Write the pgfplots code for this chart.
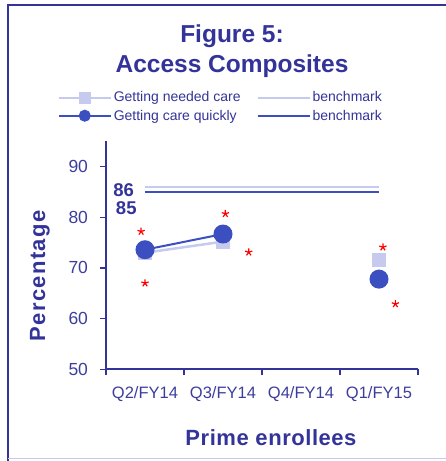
\documentclass[border=0pt]{standalone}
\usepackage{pgfplots}
\pgfplotsset{compat=1.18}
\usepackage{fontspec}
\setmainfont{Liberation Sans}
\newfontfamily\spacedsix[LetterSpace=6]{Liberation Sans}
\newfontfamily\spacedtwo[LetterSpace=2.5]{Liberation Sans}
\definecolor{navy}{HTML}{333399}
\definecolor{ticknavy}{HTML}{3D3D9C}
\definecolor{qblue}{HTML}{3B4FC0}
\definecolor{nlight}{HTML}{C5CAEE}
\begin{document}
\begin{tikzpicture}[x=1pt,y=1pt]
\useasboundingbox (0,0) rectangle (445,461);
% frame (right edge is cut off in the original)
\draw[navy, line width=2pt] (8,0) -- (8,456) -- (446,456);
\draw[nlight, line width=1.5pt] (8,2.5) -- (446,2.5);
% title
\node[navy, font=\bfseries\fontsize{24.5}{29}\selectfont, anchor=base] at (232,418.7) {Figure 5:};
\node[navy, font=\bfseries\fontsize{24.5}{29}\selectfont, anchor=base] at (232,388.7) {Access Composites};
% axis titles
\node[navy, font=\spacedsix\bfseries\fontsize{22}{26}\selectfont, rotate=90, anchor=base] at (45,185.2) {Percentage};
\node[navy, font=\spacedtwo\bfseries\fontsize{22}{26}\selectfont, anchor=base] at (271,16) {Prime enrollees};

\begin{axis}[
    at={(106pt,91.7pt)}, anchor=south west,
    scale only axis, width=312pt, height=228pt,
    xmin=0.5, xmax=4.5, ymin=50, ymax=95,
    axis lines=left,
    axis line style={navy, line width=2pt, -},
    clip=false,
    xtick={1,2,3,4},
    xticklabels={Q2/FY14, Q3/FY14, Q4/FY14, Q1/FY15},
    major x tick style={draw=none},
    minor xtick={0.5,1.5,2.5,3.5,4.5},
    ytick={50,60,70,80,90},
    tick align=outside,
    major tick length=6pt, minor tick length=6pt,
    tick style={navy, line width=1.5pt},
    minor tick style={navy, line width=1.5pt},
    xticklabel style={font=\fontsize{16.5}{18}\selectfont, text=ticknavy, yshift=-7.5pt},
    yticklabel style={font=\fontsize{17.5}{19}\selectfont, text=ticknavy, xshift=-8.5pt},
    /pgf/number format/assume math mode=true,
    unbounded coords=jump,
    legend columns=2,
    legend cell align=left,
    legend style={
        at={(0.368,1.152)}, anchor=center,
        draw=none, fill=none,
        font=\fontsize{14}{16}\selectfont, text=navy,
        row sep=2.5pt,
        /tikz/every even column/.append style={column sep=14pt}
    },
    legend image code/.code={\draw[mark repeat=2,mark phase=2,#1] plot coordinates {(0pt,0pt)(26pt,0pt)(52pt,0pt)};}
]

% legend entries
\addlegendimage{nlight, line width=2pt, mark=square*, mark size=5pt, mark options={solid, fill=nlight}}
\addlegendentry{Getting needed care}
\addlegendimage{nlight, line width=2pt}
\addlegendentry{benchmark}
\addlegendimage{qblue, line width=2pt, mark=*, mark size=5pt, mark options={solid, fill=qblue}}
\addlegendentry{Getting care quickly}
\addlegendimage{qblue, line width=2pt}
\addlegendentry{benchmark}

% benchmarks
\addplot[forget plot, nlight, line width=2pt] coordinates {(1,86) (4,86)};
\addplot[forget plot, qblue, line width=2pt] coordinates {(1,85) (4,85)};

% Getting needed care
\addplot[forget plot, nlight, line width=2.5pt, mark=square*, mark size=6pt,
    mark options={fill=nlight, draw=none}] coordinates {
    (1,73.0) (2,75.2) (3,nan) (4,71.6)
};
% Getting care quickly
\addplot[forget plot, qblue, line width=2pt, mark=*, mark size=8.5pt,
    mark options={fill=qblue, draw=none}] coordinates {
    (1,73.6) (2,76.7) (3,nan) (4,67.8)
};

% significance markers
\addplot[forget plot, only marks, mark=star, red, mark size=3.8pt, line width=1.2pt] coordinates {
    (0.95,77.2) (1.0,67.0) (2.03,80.7) (2.33,73.1) (4.05,74.1) (4.21,62.9)
};

\node[navy, font=\bfseries\fontsize{18.5}{20}\selectfont] at (axis cs:0.727,85.4) {86};
\node[navy, font=\bfseries\fontsize{18.5}{20}\selectfont] at (axis cs:0.76,81.8) {85};
\end{axis}
\end{tikzpicture}
\end{document}
